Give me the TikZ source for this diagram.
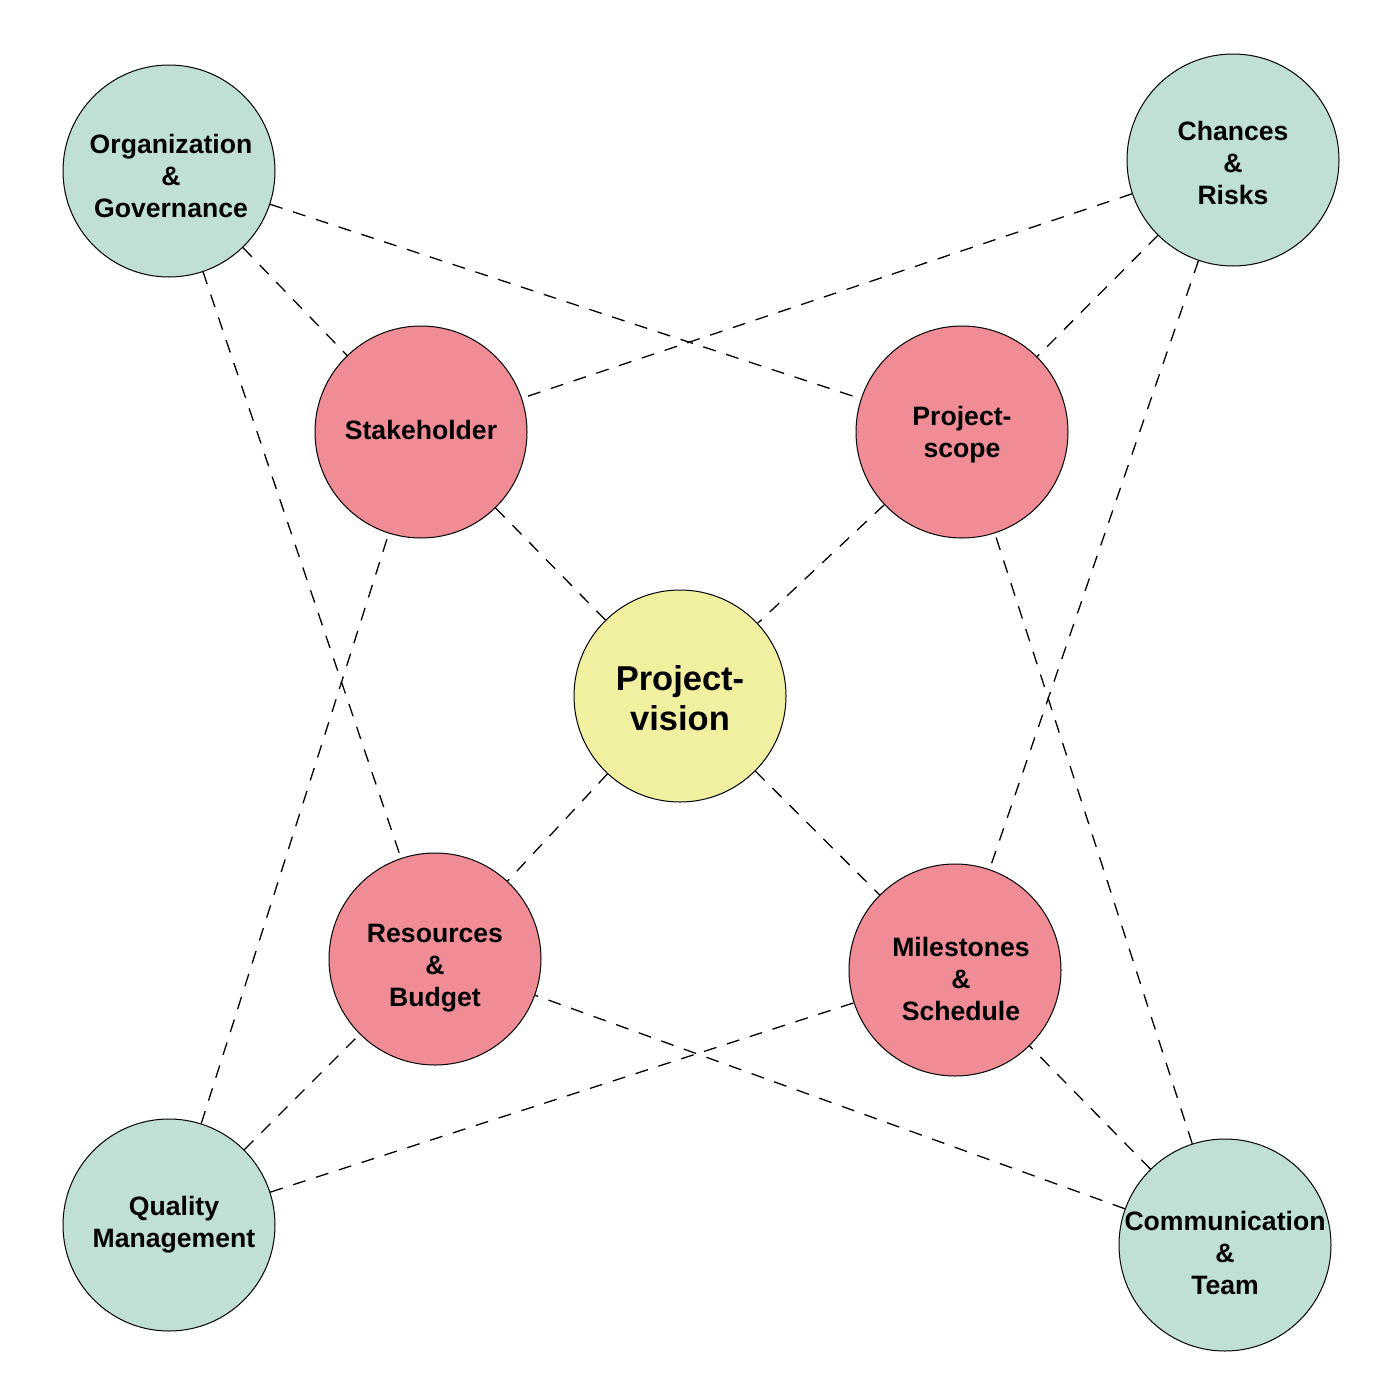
\documentclass[tikz,border=0pt]{standalone}
\usepackage{fontspec}
\setmainfont{Liberation Sans}
\usetikzlibrary{positioning}

\definecolor{outerfill}{HTML}{C0E0D5}
\definecolor{innerfill}{HTML}{F08C96}
\definecolor{visionfill}{HTML}{F0F0A0}

\tikzset{
  topic/.style={circle, draw, line width=1pt, minimum size=212pt, inner sep=0pt},
  outer/.style={topic, fill=outerfill},
  inner/.style={topic, fill=innerfill},
  txt/.style={align=center, inner sep=0pt, font=\fontsize{26.6}{32}\selectfont\bfseries},
  link/.style={line width=1.3pt, dash pattern=on 13pt off 11pt}
}

\begin{document}
\begin{tikzpicture}[x=1pt, y=-1pt]

  \useasboundingbox (0,0) rectangle (1400,1400) ;

  \node [outer] (org) at (169,171) {} ;
  \node [outer] (risks) at (1233,160) {} ;
  \node [inner] (stake) at (421,432) {} ;
  \node [inner] (scope) at (962,432) {} ;
  \node [topic, fill=visionfill] (vision) at (680,696) {} ;
  \node [inner] (res) at (435,959) {} ;
  \node [inner] (miles) at (955,970) {} ;
  \node [outer] (qual) at (169,1225) {} ;
  \node [outer] (comm) at (1225,1245) {} ;

  % labels sit a little off the circle centres
  \node [txt] (org-t) at ([xshift=2pt, yshift=-5pt]org) {Organization\\\&\\Governance} ;
  \node [txt] (risks-t) at ([yshift=-3pt]risks) {Chances\\\&\\Risks} ;
  \node [txt] (stake-t) at ([yshift=2pt]stake) {Stakeholder} ;
  \node [txt] (scope-t) at ([yshift=-3pt]scope) {Project-\\scope} ;
  \node [txt, font=\fontsize{34.5}{40}\selectfont\bfseries]
    (vision-t) at ([yshift=-2.5pt]vision) {Project-\\vision} ;
  \node [txt] (res-t) at ([yshift=-9pt]res) {Resources\\\&\\Budget} ;
  \node [txt] (miles-t) at ([xshift=6pt, yshift=-9pt]miles) {Milestones\\\&\\Schedule} ;
  \node [txt] (qual-t) at ([xshift=5pt]qual) {Quality\\Management} ;
  \node [txt] (comm-t) at ([yshift=-8pt]comm) {Communication\\\&\\Team} ;

  \path [link] (org) edge (stake) ;
  \path [link] (org) edge (scope) ;
  \path [link] (org) edge (res) ;
  \path [link] (risks) edge (stake) ;
  \path [link] (risks) edge (scope) ;
  \path [link] (risks) edge (miles) ;

  \path [link] (stake) edge (vision) ;
  \path [link] (scope) edge (vision) ;
  \path [link] (vision) edge (res) ;
  \path [link] (vision) edge (miles) ;

  \path [link] (qual) edge (stake) ;
  \path [link] (qual) edge (res) ;
  \path [link] (qual) edge (miles) ;
  \path [link] (comm) edge (scope) ;
  \path [link] (comm) edge (res) ;
  \path [link] (comm) edge (miles) ;

\end{tikzpicture}
\end{document}
